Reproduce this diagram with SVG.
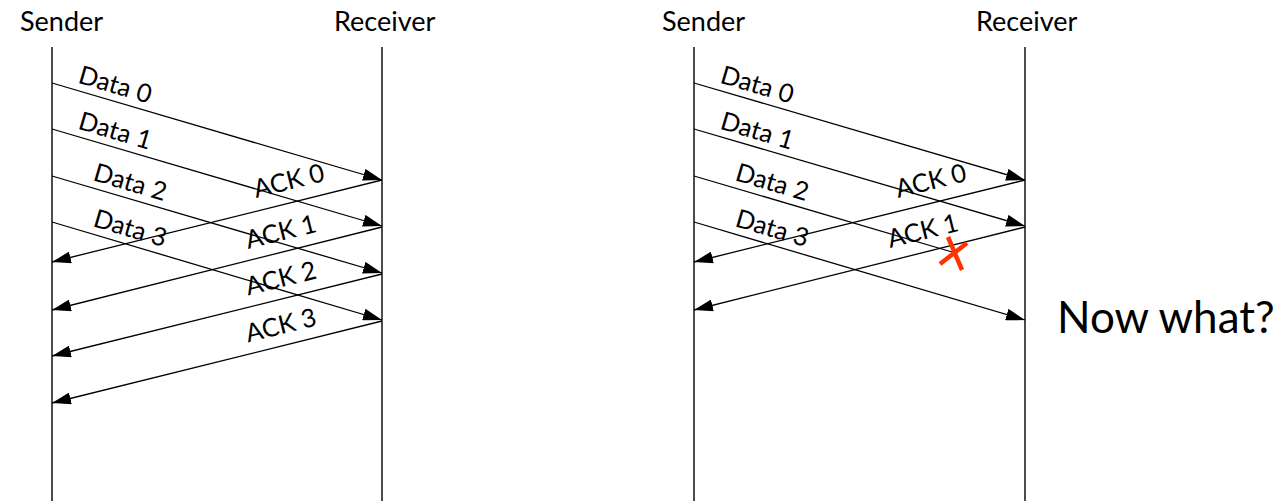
<svg xmlns="http://www.w3.org/2000/svg" width="1281" height="501" viewBox="0 0 1281 501">
<style>
text{font-family:Lato,"Open Sans","Liberation Sans",sans-serif;fill:#000}
.h{font-size:27px}
.l{font-size:25.5px}
.big{font-size:44px}
.life{stroke:#000;stroke-width:1.4;fill:none}
.msg{stroke:#000;stroke-width:1.3;fill:none;marker-end:url(#ah)}
.lost{stroke:#000;stroke-width:1.3;fill:none}
.x{stroke:#ff3300;stroke-width:4.5;stroke-linecap:butt}
</style>
<defs>
<marker id="ah" markerUnits="userSpaceOnUse" markerWidth="20" markerHeight="12" refX="19" refY="6" orient="auto">
<path d="M0,0 L19,6 L0,12 z" fill="#000"/>
</marker>
</defs>
<rect width="1281" height="501" fill="#fff"/>

<g id="left-sender"><text class="h" x="20" y="31">Sender</text><line class="life" x1="52" y1="47" x2="52" y2="501"/></g>
<g id="left-receiver"><text class="h" x="334" y="31">Receiver</text><line class="life" x1="382" y1="47" x2="382" y2="501"/></g>
<g id="right-sender"><text class="h" x="662" y="31">Sender</text><line class="life" x1="694" y1="47" x2="694" y2="501"/></g>
<g id="right-receiver"><text class="h" x="976" y="31">Receiver</text><line class="life" x1="1025" y1="47" x2="1025" y2="501"/></g>

<g id="connectors">
<line class="msg" x1="52" y1="83" x2="382" y2="180"/>
<line class="msg" x1="52" y1="129" x2="382" y2="226"/>
<line class="msg" x1="52" y1="176" x2="382" y2="273"/>
<line class="msg" x1="52" y1="222" x2="382" y2="320"/>
<line class="msg" x1="382" y1="180" x2="52" y2="262"/>
<line class="msg" x1="382" y1="227" x2="52" y2="310"/>
<line class="msg" x1="382" y1="274" x2="52" y2="356"/>
<line class="msg" x1="382" y1="321" x2="52" y2="403"/>

<line class="msg" x1="694" y1="83" x2="1025" y2="180"/>
<line class="msg" x1="694" y1="129" x2="1025" y2="226"/>
<line class="lost" x1="694" y1="176" x2="952" y2="252"/>
<line class="msg" x1="694" y1="222" x2="1025" y2="320"/>
<line class="msg" x1="1025" y1="180" x2="694" y2="262"/>
<line class="msg" x1="1025" y1="227" x2="694" y2="310"/>
</g>

<g id="left-labels">
<text class="l" transform="translate(77,82.5) rotate(16.4)">Data 0</text>
<text class="l" transform="translate(77,128.5) rotate(16.4)">Data 1</text>
<text class="l" transform="translate(92,180) rotate(16.4)">Data 2</text>
<text class="l" transform="translate(92,226) rotate(16.4)">Data 3</text>
<text class="l" transform="translate(256,198) rotate(-14)">ACK 0</text>
<text class="l" transform="translate(248,249) rotate(-14)">ACK 1</text>
<text class="l" transform="translate(248,295.5) rotate(-14)">ACK 2</text>
<text class="l" transform="translate(248,342.5) rotate(-14)">ACK 3</text>
</g>

<g id="right-labels">
<text class="l" transform="translate(719,82.5) rotate(16.4)">Data 0</text>
<text class="l" transform="translate(719,128.5) rotate(16.4)">Data 1</text>
<text class="l" transform="translate(734,180) rotate(16.4)">Data 2</text>
<text class="l" transform="translate(734,226) rotate(16.4)">Data 3</text>
<text class="l" transform="translate(898,198) rotate(-14)">ACK 0</text>
<text class="l" transform="translate(890,248) rotate(-14)">ACK 1</text>
</g>

<g id="loss-mark">
<line class="x" x1="948" y1="237" x2="962" y2="270"/>
<line class="x" x1="940" y1="264" x2="967" y2="243"/>
</g>

<g id="now-what"><text class="big" x="1057" y="333">Now what?</text></g>
</svg>
